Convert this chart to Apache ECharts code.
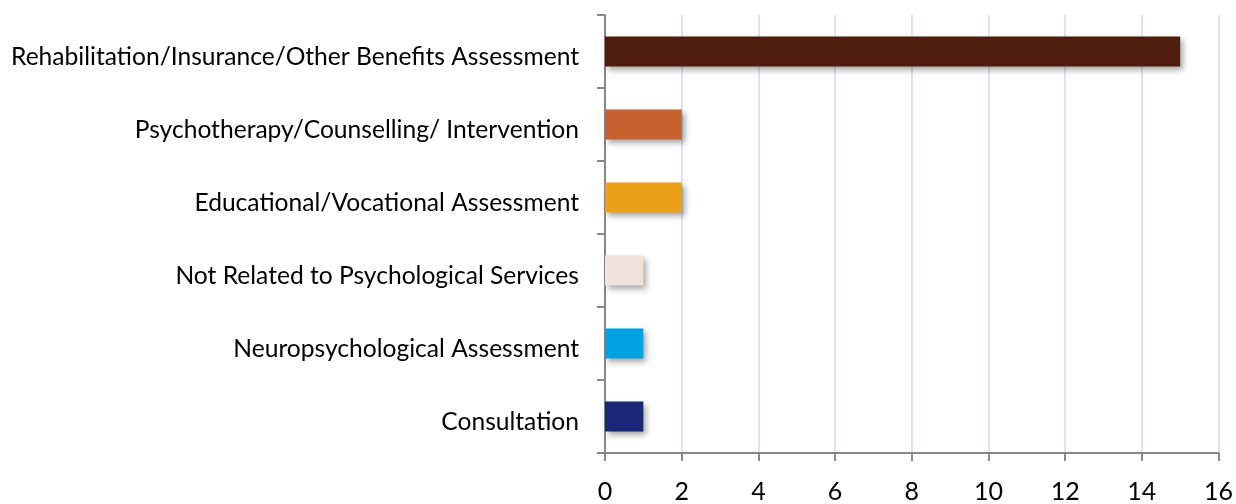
<!DOCTYPE html>
<html>
<head>
<meta charset="utf-8">
<script src="https://cdn.jsdelivr.net/npm/echarts@6/dist/echarts.min.js"></script>
<style>
  html, body { margin: 0; padding: 0; background: #fff; }
  #chart { width: 1236px; height: 504px; }
</style>
</head>
<body>
<div id="chart"></div>
<script>
// categories from bottom to top (echarts draws the first category at the bottom)
const categories = [
  'Consultation',
  'Neuropsychological Assessment',
  'Not Related to Psychological Services',
  'Educational/Vocational Assessment',
  'Psychotherapy/Counselling/ Intervention',
  'Rehabilitation/Insurance/Other Benefits Assessment'
]
const counts = [1, 1, 1, 2, 2, 15]
const barColors = ['#1b2677', '#00a2e3', '#f0e3dc', '#eba21a', '#c8602f', '#4e1d0e']

const chart = echarts.init(document.getElementById('chart'))
chart.setOption({
  animation: false,
  grid: { left: 605, right: 17, top: 15, bottom: 44 },
  xAxis: {
    type: 'value',
    min: 0,
    max: 16,
    interval: 2,
    axisLine: { show: true, lineStyle: { color: '#878787', width: 2 } },
    axisTick: { show: true, length: 8, lineStyle: { color: '#878787', width: 2 } },
    axisLabel: { color: '#000', fontSize: 25, fontFamily: 'Lato', margin: 26 },
    splitLine: { show: true, lineStyle: { color: '#dbe3f3', width: 2 } }
  },
  yAxis: {
    type: 'category',
    data: categories,
    axisLine: { show: true, lineStyle: { color: '#878787', width: 2 } },
    axisTick: { show: true, length: 8, alignWithLabel: false, lineStyle: { color: '#878787', width: 2 } },
    axisLabel: { color: '#000', fontSize: 24.6, fontFamily: 'Lato', margin: 26, verticalAlign: 'top', lineHeight: 12 },
    splitLine: { show: false }
  },
  series: [{
    type: 'bar',
    barWidth: 30,
    data: counts.map((v, i) => ({
      value: v,
      itemStyle: {
        color: barColors[i],
        shadowColor: 'rgba(0,0,0,0.35)',
        shadowBlur: 6,
        shadowOffsetX: 3,
        shadowOffsetY: 3
      }
    }))
  }]
})
</script>
</body>
</html>
